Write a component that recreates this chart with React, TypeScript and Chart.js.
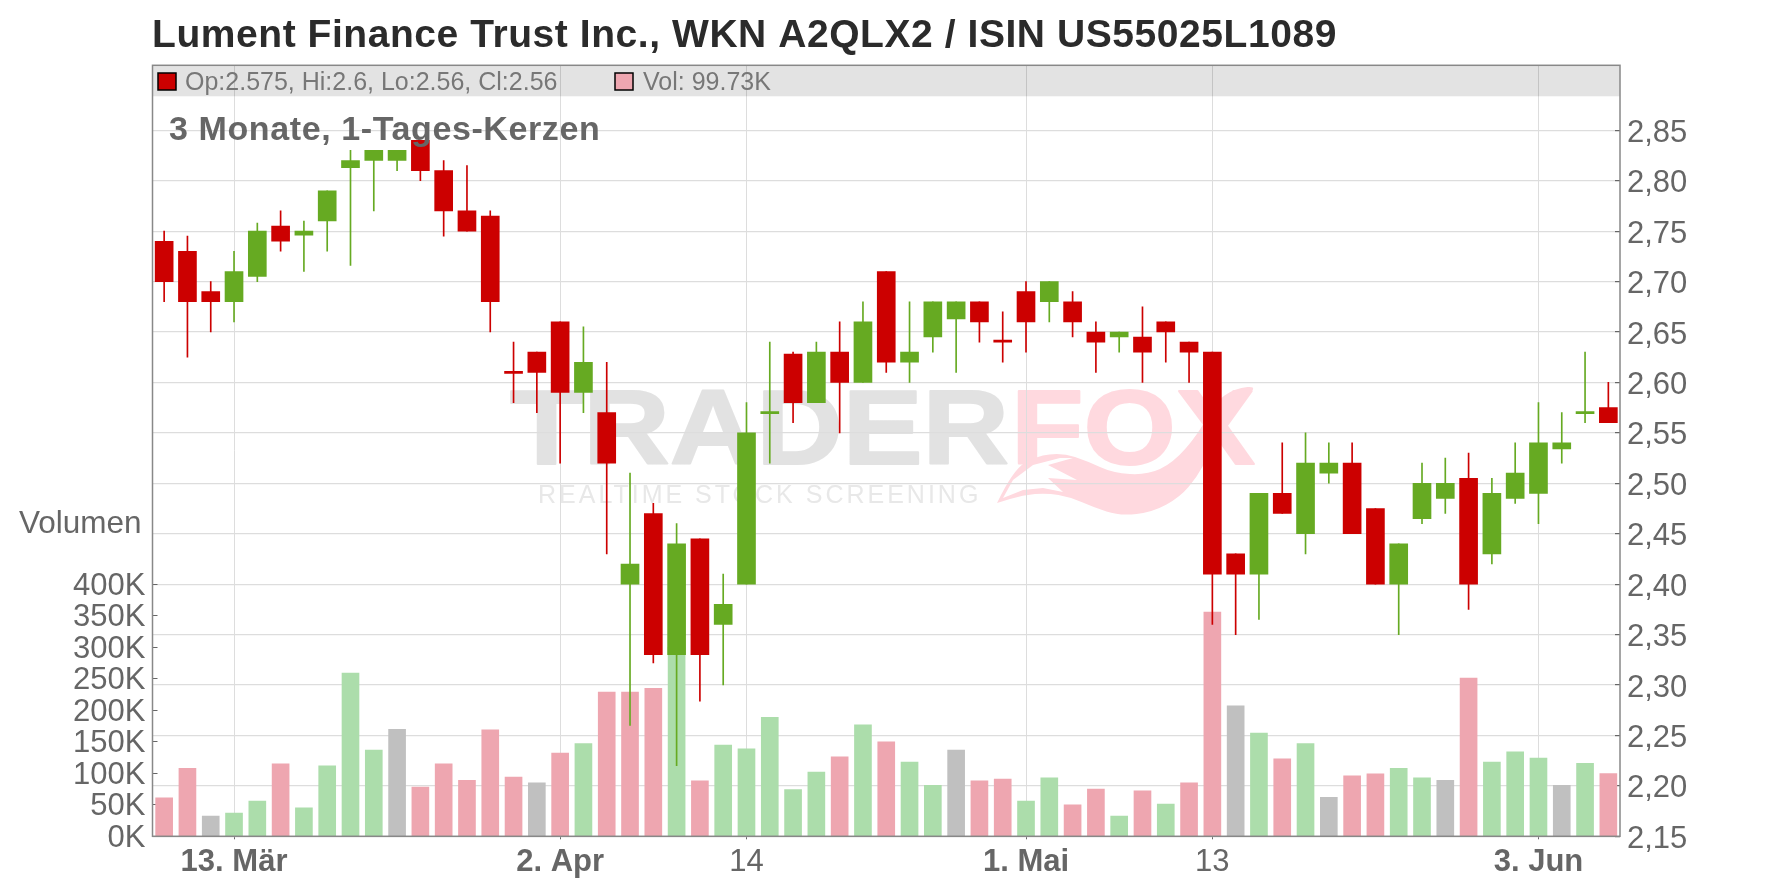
import { useEffect, useRef } from "react"
import { Chart, registerables } from "chart.js"

Chart.register(...registerables)

const FONT = '"Liberation Sans"'

const tickLabels = ["13. Mär", "2. Apr", "14", "1. Mai", "13", "3. Jun"]
const tickIndexes = [3, 17, 25, 37, 45, 59]
const boldTicks = ["13. Mär", "2. Apr", "1. Mai", "3. Jun"]

const opens = [
  2.74, 2.73, 2.69, 2.68, 2.705, 2.755, 2.746, 2.76, 2.813, 2.82, 2.82, 2.84, 2.81, 2.77, 2.765, 2.611,
  2.63, 2.66, 2.59, 2.57, 2.4, 2.47, 2.33, 2.445, 2.36, 2.4, 2.569, 2.628, 2.58, 2.63, 2.6, 2.71,
  2.62, 2.645, 2.663, 2.68, 2.642, 2.69, 2.68, 2.68, 2.65, 2.645, 2.645, 2.66, 2.64, 2.63, 2.43, 2.41,
  2.49, 2.45, 2.51, 2.52, 2.475, 2.4, 2.465, 2.485, 2.505, 2.43, 2.485, 2.49, 2.534, 2.569, 2.575,
]
const highs = [
  2.75, 2.745, 2.7, 2.73, 2.758, 2.77, 2.76, 2.79, 2.83, 2.83, 2.83, 2.84, 2.82, 2.815, 2.77, 2.64,
  2.63, 2.66, 2.655, 2.62, 2.51, 2.48, 2.46, 2.445, 2.41, 2.58, 2.64, 2.63, 2.64, 2.66, 2.68, 2.71,
  2.68, 2.68, 2.68, 2.68, 2.67, 2.7, 2.7, 2.69, 2.66, 2.65, 2.675, 2.66, 2.64, 2.63, 2.43, 2.49,
  2.54, 2.55, 2.54, 2.54, 2.475, 2.44, 2.52, 2.525, 2.53, 2.505, 2.54, 2.58, 2.57, 2.63, 2.6,
]
const lows = [
  2.68, 2.625, 2.65, 2.66, 2.7, 2.73, 2.71, 2.73, 2.716, 2.77, 2.81, 2.8, 2.745, 2.75, 2.65, 2.58,
  2.57, 2.52, 2.57, 2.43, 2.26, 2.322, 2.22, 2.284, 2.3, 2.4, 2.52, 2.56, 2.58, 2.55, 2.6, 2.61,
  2.6, 2.63, 2.61, 2.64, 2.62, 2.63, 2.66, 2.645, 2.61, 2.63, 2.6, 2.62, 2.6, 2.36, 2.35, 2.365,
  2.47, 2.43, 2.5, 2.45, 2.4, 2.35, 2.46, 2.47, 2.375, 2.42, 2.48, 2.46, 2.52, 2.56, 2.56,
]
const closes = [
  2.7, 2.68, 2.68, 2.71, 2.75, 2.74, 2.75, 2.79, 2.82, 2.83, 2.83, 2.81, 2.77, 2.75, 2.68, 2.609,
  2.61, 2.59, 2.62, 2.52, 2.42, 2.33, 2.44, 2.33, 2.38, 2.55, 2.571, 2.58, 2.63, 2.6, 2.66, 2.62,
  2.63, 2.68, 2.68, 2.66, 2.64, 2.66, 2.7, 2.66, 2.64, 2.65, 2.63, 2.65, 2.63, 2.41, 2.41, 2.49,
  2.47, 2.52, 2.52, 2.45, 2.4, 2.44, 2.5, 2.5, 2.4, 2.49, 2.51, 2.54, 2.54, 2.571, 2.56,
]
const volumes = [
  61, 108, 32, 37, 56, 115, 45, 112, 259, 137, 170, 78, 115, 89, 169, 94,
  85, 132, 147, 229, 229, 235, 300, 88, 145, 139, 189, 74, 102, 126, 177, 150,
  118, 81, 137, 88, 91, 56, 93, 50, 75, 32, 72, 51, 85, 356, 207, 164,
  123, 147, 62, 96, 99, 108, 93, 89, 251, 118, 134, 124, 81, 116, 99.73,
]
// d = falling, u = rising, f = unchanged against the day before
const volumeMoves = [
  "d", "d", "f", "u", "u", "d", "u", "u", "u", "u", "f", "d", "d", "d", "d", "d",
  "f", "d", "u", "d", "d", "d", "u", "d", "u", "u", "u", "u", "u", "d", "u", "d",
  "u", "u", "f", "d", "d", "u", "u", "d", "d", "u", "d", "u", "d", "d", "f", "u",
  "d", "u", "f", "d", "d", "u", "u", "f", "d", "u", "u", "u", "f", "u", "d",
]
const categories = opens.map((_, i) => {
  const t = tickIndexes.indexOf(i)
  return t >= 0 ? tickLabels[t] : ""
})

const RED = "#CC0000"
const GREEN = "#66AA22"
const VOLUME_COLORS: Record<string, string> = { d: "#EEA6B0", u: "#ACDDAB", f: "#C0C0C0" }

function curve(ctx: CanvasRenderingContext2D, pts: number[][]) {
  ctx.beginPath()
  ctx.moveTo(pts[0][0], pts[0][1])
  for (let i = 1; i < pts.length - 1; i++) {
    const mx = (pts[i][0] + pts[i + 1][0]) / 2
    const my = (pts[i][1] + pts[i + 1][1]) / 2
    ctx.quadraticCurveTo(pts[i][0], pts[i][1], mx, my)
  }
  const last = pts[pts.length - 1]
  ctx.lineTo(last[0], last[1])
  ctx.closePath()
  ctx.fill()
}

function text(ctx: CanvasRenderingContext2D, s: string, x: number, y: number, font: string, color: string, spacing = 0) {
  ctx.font = font
  ctx.fillStyle = color
  ctx.textAlign = "left"
  ctx.textBaseline = "alphabetic"
  ;(ctx as any).letterSpacing = `${spacing}px`
  ctx.fillText(s, x, y)
  ;(ctx as any).letterSpacing = "0px"
}

// logo letters are wider and heavier than the plain font
function logoWord(ctx: CanvasRenderingContext2D, s: string, x: number, scaleX: number, fill: any) {
  ctx.save()
  ctx.translate(x, 464)
  ctx.scale(scaleX, 1)
  ctx.font = `bold 106px ${FONT}`
  ctx.textAlign = "left"
  ctx.textBaseline = "alphabetic"
  ctx.fillStyle = fill
  ctx.strokeStyle = fill
  ctx.lineWidth = 2
  ctx.lineJoin = "round"
  ctx.fillText(s, 0, 0)
  ctx.strokeText(s, 0, 0)
  ctx.restore()
}

const decorations = {
  id: "decorations",
  // logo sits under the grid
  beforeDraw(chart: Chart) {
    const ctx = chart.ctx
    ctx.save()
    const grey = ctx.createLinearGradient(0, 388, 0, 464)
    grey.addColorStop(0, "#E2E2E2")
    grey.addColorStop(1, "#F0F0F0")
    logoWord(ctx, "TRADER", 510, 1.13, grey)
    logoWord(ctx, "FOX", 1011, 1.12, "#FFD9DF")
    text(ctx, "REALTIME STOCK SCREENING", 538, 503, `25px ${FONT}`, "#E8E8E8", 3)
    ctx.fillStyle = "#FFD9DF"
    curve(ctx, [
      [997, 503], [1013, 470], [1036, 456], [1063, 453], [1087, 461], [1113, 473], [1147, 475], [1173, 463],
      [1199, 433], [1214, 403], [1235, 388], [1260, 386], [1230, 407], [1214, 437], [1210, 453], [1197, 477],
      [1180, 497], [1153, 512], [1120, 516], [1093, 507], [1070, 497], [1047, 493], [1023, 495], [997, 503],
    ])
    ctx.fillStyle = "#FFFFFF"
    ctx.beginPath()
    const cut = [
      [1003, 498], [1013, 480], [1033, 465], [1060, 458], [1073, 458], [1048, 465], [1077, 480],
      [1048, 478], [1063, 492], [1043, 488], [1023, 490],
    ]
    cut.forEach((p, i) => (i ? ctx.lineTo(p[0], p[1]) : ctx.moveTo(p[0], p[1])))
    ctx.closePath()
    ctx.fill()
    ctx.restore()

    text(ctx, "Lument Finance Trust Inc., WKN A2QLX2 / ISIN US55025L1089", 152, 47, `bold 39px ${FONT}`, "#2B2B2B", 0.56)
    text(ctx, "Volumen", 19, 533, `31.5px ${FONT}`, "#666666")
  },
  beforeDatasetsDraw(chart: Chart) {
    const { ctx, chartArea: a } = chart
    ctx.save()
    ctx.fillStyle = "rgba(0,0,0,0.11)"
    ctx.fillRect(a.left, a.top, a.right - a.left, 31)
    ctx.restore()
  },
  afterDatasetsDraw(chart: Chart) {
    const { ctx, chartArea: a } = chart
    ctx.save()
    ctx.strokeStyle = "#888888"
    ctx.lineWidth = 1.5
    ctx.strokeRect(a.left, a.top, a.right - a.left, a.bottom - a.top)

    ctx.lineWidth = 1.5
    ctx.strokeStyle = "#000000"
    ctx.fillStyle = RED
    ctx.fillRect(158, 73, 18, 17)
    ctx.strokeRect(158, 73, 18, 17)
    ctx.fillStyle = VOLUME_COLORS.d
    ctx.fillRect(615, 73, 18, 17)
    ctx.strokeRect(615, 73, 18, 17)
    text(ctx, "Op:2.575, Hi:2.6, Lo:2.56, Cl:2.56", 185, 90, `25px ${FONT}`, "#777777")
    text(ctx, "Vol: 99.73K", 643, 90, `25px ${FONT}`, "#777777")
    text(ctx, "3 Monate, 1-Tages-Kerzen", 169, 140, `bold 34px ${FONT}`, "#666666", 0.6)
    ctx.restore()
  },
}

export default function App() {
  const canvasRef = useRef<HTMLCanvasElement>(null)
  const chartRef = useRef<Chart | null>(null)

  useEffect(() => {
    if (!canvasRef.current) return
    const ctx = canvasRef.current.getContext("2d")
    if (!ctx) return

    const candleColors = opens.map((o, i) => (closes[i] >= o ? GREEN : RED))

    chartRef.current = new Chart(ctx, {
      type: "bar",
      data: {
        labels: categories,
        datasets: [
          {
            label: "Body",
            data: opens.map((o, i) => [o, closes[i]]),
            backgroundColor: candleColors,
            yAxisID: "y",
            barThickness: 18,
            minBarLength: 1.5,
            grouped: false,
            order: 1,
          },
          {
            label: "Wick",
            data: lows.map((l, i) => [l, highs[i]]),
            backgroundColor: candleColors,
            yAxisID: "y",
            barThickness: 1,
            grouped: false,
            order: 2,
          },
          {
            label: "Volumen",
            data: volumes,
            backgroundColor: volumeMoves.map((m) => VOLUME_COLORS[m]),
            yAxisID: "vol",
            barThickness: 17,
            grouped: false,
            order: 3,
          },
        ] as any,
      },
      options: {
        responsive: false,
        animation: false,
        layout: { padding: { top: 65.3, left: 0, right: 0, bottom: 0 } },
        plugins: { legend: { display: false }, tooltip: { enabled: false } },
        scales: {
          x: {
            offset: true,
            afterBuildTicks: (axis: any) => {
              axis.ticks = tickIndexes.map((value) => ({ value }))
            },
            afterFit: (axis: any) => {
              axis.height = 51.7
            },
            border: { display: false },
            grid: { color: "#DDDDDD", lineWidth: 1, offset: false, tickLength: 3, tickColor: "#666666" },
            ticks: {
              autoSkip: false,
              maxRotation: 0,
              padding: 5,
              color: "#666666",
              font: (c: any) => ({
                family: FONT,
                size: 31,
                weight: boldTicks.includes(c.tick?.label) ? "bold" : "normal",
              }),
            },
          },
          y: {
            position: "right",
            min: 2.15,
            max: 2.9144,
            afterBuildTicks: (axis: any) => {
              axis.ticks = axis.ticks.filter((t: any) => t.value < 2.86)
            },
            afterFit: (axis: any) => {
              axis.width = 156
            },
            border: { display: false },
            grid: { color: "#DDDDDD", lineWidth: 1.2, tickLength: -5, tickColor: "#666666" },
            ticks: {
              stepSize: 0.05,
              autoSkip: false,
              padding: 12,
              labelOffset: 3,
              color: "#666666",
              font: { family: FONT, size: 31 },
              callback: (v: any) => Number(v).toFixed(2).replace(".", ","),
            },
          },
          vol: {
            position: "left",
            min: 0,
            max: 1224,
            afterBuildTicks: (axis: any) => {
              axis.ticks = axis.ticks.filter((t: any) => t.value <= 400)
            },
            afterFit: (axis: any) => {
              axis.width = 152.5
            },
            border: { display: false },
            grid: { drawOnChartArea: false, tickLength: -5, tickColor: "#666666" },
            ticks: {
              stepSize: 50,
              autoSkip: false,
              padding: 12,
              labelOffset: 2,
              color: "#666666",
              font: { family: FONT, size: 31 },
              callback: (v: any) => `${v}K`,
            },
          },
        },
      },
      plugins: [decorations],
    } as any)

    return () => {
      if (chartRef.current) {
        chartRef.current.destroy()
      }
    }
  }, [])

  return (
    <div style={{ position: "fixed", left: 0, top: 0, width: 1776, height: 888, background: "#FFFFFF" }}>
      <canvas ref={canvasRef} width={1776} height={888} />
    </div>
  )
}
